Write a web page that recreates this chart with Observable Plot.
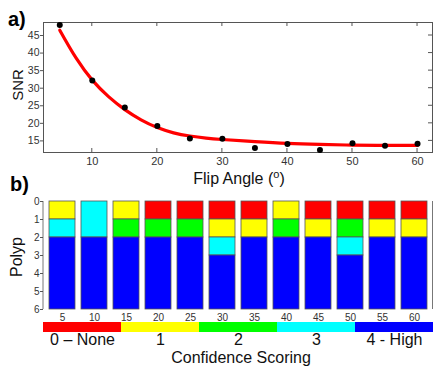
<!DOCTYPE html>
<html><head><meta charset="utf-8">
<script src="https://cdn.jsdelivr.net/npm/d3@7"></script>
<script src="https://cdn.jsdelivr.net/npm/@observablehq/plot@0.6"></script>
<style>
html,body{margin:0;padding:0;background:#fff;}
#wrap{position:relative;width:433px;height:367px;overflow:hidden;font-family:"Liberation Sans",Arial,sans-serif;}
#wrap svg{position:absolute;left:0;background:transparent;overflow:visible;}
</style></head>
<body><div id="wrap"></div>
<script>
// ---- Panel a data ----
const snrAngles = [5,10,15,20,25,30,35,40,45,50,55,60];
const snrValues = [48.0,32.2,24.5,19.25,15.7,15.6,13.0,14.1,12.4,14.3,13.6,14.2];
const fitAngles = [5,7.5,10,12.5,15,17.5,20,22.5,25,27.5,30,35,40,45,50,55,60];
const fitValues = [46.5,38.6,32.3,27.6,23.9,21.0,18.8,17.3,16.4,15.8,15.4,14.8,14.3,14.0,13.8,13.7,13.7];
const aXTicks = [10,20,30,40,50,60];
const aYTicks = [15,20,25,30,35,40,45];

// ---- Panel b data ----
const flipAngles = [5,10,15,20,25,30,35,40,45,50,55,60];
const polypScores = [
  [1,3,4,4,4,4],
  [3,3,4,4,4,4],
  [1,2,4,4,4,4],
  [0,2,4,4,4,4],
  [0,2,4,4,4,4],
  [0,1,3,4,4,4],
  [0,1,4,4,4,4],
  [1,2,4,4,4,4],
  [0,1,4,4,4,4],
  [0,2,3,4,4,4],
  [0,1,4,4,4,4],
  [0,1,4,4,4,4]
];
const bYTicks = [0,1,2,3,4,5,6];
const scoreLevels = [0,1,2,3,4];
const scoreLabels = ["0 \u2013 None","1","2","3","4 - High"];
const scoreColors = ["#ff0000","#ffff00","#00ff00","#00ffff","#0000ff"];

const FONT = '"Liberation Sans",Arial,sans-serif';
const wrap = document.getElementById("wrap");

// merge consecutive equal scores into segments
const segments = [];
flipAngles.forEach((a, i) => {
  const s = polypScores[i];
  let start = 0;
  for (let k = 1; k <= s.length; k++) {
    if (k === s.length || s[k] !== s[start]) {
      segments.push({angle: a, y1: start, y2: k, score: s[start]});
      start = k;
    }
  }
});

// Panel a
const aYDomain = [11.7, 48.7];
const aInnerTicks = (index, scales, values, dims) => {
  const g = d3.create("svg:g").attr("stroke", "#555").attr("stroke-width", 1);
  const top = dims.marginTop, bottom = dims.height - dims.marginBottom, right = dims.width - dims.marginRight;
  for (const t of aXTicks) {
    const x = scales.x(t);
    g.append("line").attr("x1", x).attr("x2", x).attr("y1", bottom).attr("y2", bottom - 4);
    g.append("line").attr("x1", x).attr("x2", x).attr("y1", top).attr("y2", top + 4);
  }
  for (const t of aYTicks) {
    const y = scales.y(t);
    g.append("line").attr("x1", right).attr("x2", right - 4).attr("y1", y).attr("y2", y);
  }
  return g.node();
};
const plotA = Plot.plot({
  width: 433, height: 175,
  marginTop: 22, marginBottom: 23, marginLeft: 43, marginRight: 1,
  style: {fontFamily: FONT, background: "transparent", overflow: "visible"},
  x: {domain: [2.5, 62.3]},
  y: {domain: aYDomain},
  marks: [
    Plot.frame({stroke: "#555"}),
    Plot.axisX({ticks: aXTicks, tickSize: 0, tickPadding: 5, fontSize: 11, fill: "#333", label: null}),
    Plot.axisY({ticks: aYTicks, tickSize: 3, tickPadding: 1, fontSize: 10.5, fill: "#333", stroke: "#555", label: null}),
    aInnerTicks,
    Plot.line(fitAngles.map((x, i) => ({x, y: fitValues[i]})), {x: "x", y: "y", stroke: "#ff0000", strokeWidth: 3.2, curve: "natural"}),
    Plot.dot(snrAngles.map((x, i) => ({x, y: snrValues[i]})), {x: "x", y: "y", r: 3, fill: "#000"})
  ]
});
plotA.style.top = "0px";
wrap.appendChild(plotA);

// Panel b
const bSides = (index, scales, values, dims) => {
  const g = d3.create("svg:g").attr("stroke", "#777").attr("stroke-width", 1);
  const top = dims.marginTop, bottom = dims.height - dims.marginBottom;
  g.append("line").attr("x1", dims.marginLeft).attr("x2", dims.marginLeft).attr("y1", top).attr("y2", bottom);
  g.append("line").attr("x1", dims.width - dims.marginRight - 0.5).attr("x2", dims.width - dims.marginRight - 0.5).attr("y1", top).attr("y2", bottom);
  return g.node();
};
const plotB = Plot.plot({
  width: 433, height: 140,
  marginTop: 15, marginBottom: 17, marginLeft: 43, marginRight: 0,
  style: {fontFamily: FONT, background: "transparent", overflow: "visible"},
  x: {type: "band", domain: flipAngles, paddingInner: 0.19, paddingOuter: 0.075},
  y: {domain: [0, 6], reverse: true},
  color: {type: "ordinal", domain: scoreLevels, range: scoreColors},
  marks: [
    Plot.barY(segments, {x: "angle", y1: "y1", y2: "y2", fill: "score", stroke: "#555", strokeWidth: 0.8}),
    bSides,
    Plot.axisX({tickSize: 0, tickPadding: 4, fontSize: 10, fill: "#333", label: null}),
    Plot.axisY({ticks: bYTicks, tickFormat: d => String(d), tickSize: 3, tickPadding: 1, fontSize: 10, fill: "#333", stroke: "#555", label: null})
  ]
});
plotB.style.top = "186px";
wrap.appendChild(plotB);

// Colour bar
const plotC = Plot.plot({
  width: 433, height: 49,
  marginTop: 4, marginBottom: 35, marginLeft: 43, marginRight: 0,
  style: {fontFamily: FONT, background: "transparent", overflow: "visible"},
  x: {type: "band", domain: scoreLabels, padding: 0},
  marks: [
    Plot.cell(scoreLabels, {x: d => d, fill: (d, i) => scoreColors[i]}),
    Plot.axisX({tickSize: 0, tickPadding: 1, fontSize: 16, fill: "#111", label: null})
  ]
});
plotC.style.top = "318px";
wrap.appendChild(plotC);

// Titles overlay
const ov = d3.create("svg").attr("width", 433).attr("height", 367)
  .style("top", "0px").style("font-family", FONT).style("pointer-events", "none");
ov.append("text").attr("x", 8).attr("y", 26).attr("font-size", 20).attr("font-weight", "bold").text("a)");
ov.append("text").attr("x", 10).attr("y", 191).attr("font-size", 20).attr("font-weight", "bold").text("b)");
ov.append("text").attr("transform", "translate(23,85) rotate(-90)").attr("text-anchor", "middle").attr("font-size", 15).attr("fill", "#111").text("SNR");
ov.append("text").attr("transform", "translate(21.5,257) rotate(-90)").attr("text-anchor", "middle").attr("font-size", 16).attr("fill", "#111").text("Polyp");
const fl = ov.append("text").attr("x", 239).attr("y", 184).attr("text-anchor", "middle").attr("font-size", 16).attr("fill", "#111");
fl.append("tspan").text("Flip Angle (");
fl.append("tspan").attr("font-size", 11).attr("dy", -6).text("o");
fl.append("tspan").attr("dy", 6).text(")");
ov.append("text").attr("x", 241).attr("y", 362.5).attr("text-anchor", "middle").attr("font-size", 16).attr("fill", "#111").text("Confidence Scoring");
wrap.appendChild(ov.node());
</script></body></html>
